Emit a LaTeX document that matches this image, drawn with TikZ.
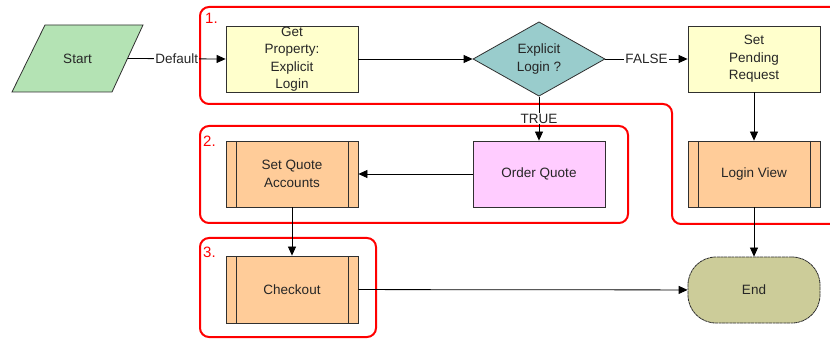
\documentclass[tikz,border=0pt]{standalone}
\usepackage{fontspec}
\setmainfont{Liberation Sans}
\usetikzlibrary{arrows.meta,shapes.geometric}
\definecolor{yelfill}{HTML}{FFFFCC}
\definecolor{startfill}{HTML}{B4E3B4}
\definecolor{decfill}{HTML}{99CCCC}
\definecolor{pinkfill}{HTML}{FFCCFF}
\definecolor{subfill}{HTML}{FFCC99}
\definecolor{endfill}{HTML}{CCCC99}
\definecolor{edge}{HTML}{303030}
\begin{document}
\begin{tikzpicture}[x=1pt,y=-1pt,
  font=\fontsize{13.5}{17.5}\selectfont,
  box/.style={draw=edge, line width=0.8pt, minimum width=132pt, minimum height=66pt, inner sep=0pt, align=center, text=black!85},
  sub/.style={box, fill=subfill, path picture={
      \draw[edge, line width=0.8pt] ([xshift=10pt]path picture bounding box.north west) -- ([xshift=10pt]path picture bounding box.south west);
      \draw[edge, line width=0.8pt] ([xshift=-10pt]path picture bounding box.north east) -- ([xshift=-10pt]path picture bounding box.south east);}},
  conn/.style={draw=black, line width=0.8pt, -{Triangle[length=9pt,width=8pt]}},
  grp/.style={draw=red, line width=2pt, rounded corners=9pt},
  lbl/.style={fill=white, inner sep=1pt, text=black!85},
  gnum/.style={text=red, font=\fontsize{15}{17}\selectfont, anchor=west, inner sep=0pt}]
\useasboundingbox (0,0) rectangle (830,339);
\clip (0,0) rectangle (830,339);
\fill[white] (0,0) rectangle (830,339);
% groups
\draw[grp] (200,7) -- (845,7) -- (845,224) -- (672,224) -- (672,104) -- (200,104) -- cycle;
\draw[grp] (200,126) rectangle (628,223);
\draw[grp] (200,238) rectangle (376,337);
\node[gnum] (g1) at (205,18) {1.};
\node[gnum] (g2) at (203,141) {2.};
\node[gnum] (g3) at (203,252) {3.};
% start
\filldraw[fill=startfill, draw=edge, line width=0.8pt] (45,25) -- (143,25) -- (112,92) -- (12,92) -- cycle;
\node[minimum width=100pt, minimum height=67pt, inner sep=0pt, text=black!85] (start) at (77.5,58.5) {Start};
% nodes
\node[box, fill=yelfill] (gp) at (292,59) {Get\\Property:\\Explicit\\Login};
\node[diamond, draw=edge, line width=0.8pt, fill=decfill, minimum width=132pt, minimum height=66pt, inner sep=0pt, align=center, text=black!85] (dec) at (539,59) {Explicit\\Login ?};
\node[box, fill=yelfill] (sp) at (754,59) {Set\\Pending\\Request};
\node[sub] (lv) at (754,174) {Login View};
\node[box, fill=pinkfill] (oq) at (539,174) {Order Quote};
\node[sub] (sq) at (292,174) {Set Quote\\Accounts};
\node[sub, minimum height=67pt] (co) at (292,289.5) {Checkout};
\node[draw=edge, line width=0.8pt, dashed, dash pattern=on 3pt off 0.6pt, fill=endfill, rounded corners=28pt, minimum width=132pt, minimum height=66pt, inner sep=0pt, text=black!85] (end) at (754,290) {End};
% connectors
\draw[conn] (start.east) -- node[lbl]{Default} (gp.west);
\draw[conn] (gp) -- (dec);
\draw[conn] (dec) -- node[lbl]{FALSE} (sp);
\draw[conn] (dec) -- node[lbl]{TRUE} (oq);
\draw[conn] (sp) -- (lv);
\draw[conn] (lv) -- (end);
\draw[conn] (oq) -- (sq);
\draw[conn] (sq) -- (co);
\draw[conn] (co) -- (end);
\end{tikzpicture}
\end{document}
